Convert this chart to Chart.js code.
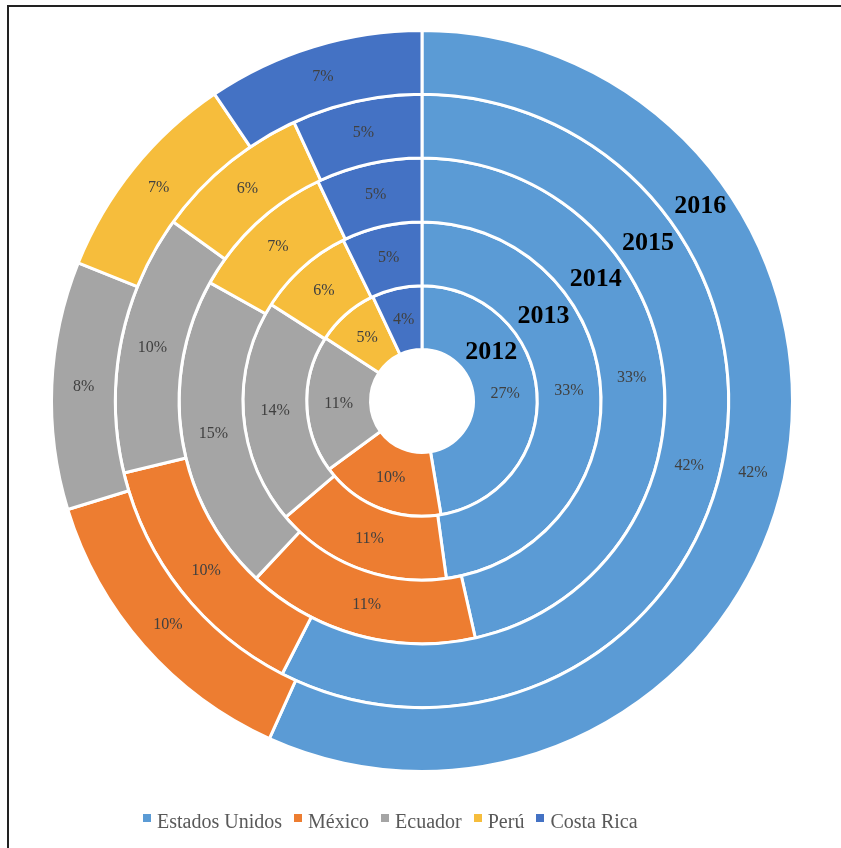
<!DOCTYPE html>
<html><head><meta charset="utf-8">
<script src="https://cdn.jsdelivr.net/npm/chart.js@4.4.0/dist/chart.umd.min.js"></script>
<style>
html,body{margin:0;padding:0;background:#fff;}
#wrap{position:relative;width:841px;height:848px;overflow:hidden;}
#frame{position:absolute;left:7px;top:5px;right:-5px;bottom:-5px;border-top:2px solid #222;border-left:2px solid #222;pointer-events:none;}
canvas{display:block;}
#legend{position:absolute;left:143px;top:809px;display:flex;align-items:center;white-space:nowrap;
  font-family:"Liberation Serif","Times New Roman",serif;font-size:20px;line-height:24px;color:#595959;}
#legend .item{display:flex;align-items:center;margin-right:12px;}
#legend .box{width:8px;height:8px;margin-right:6px;position:relative;top:-3px;}
</style></head><body>
<div id="wrap"><canvas id="c" width="841" height="848"></canvas><div id="legend"></div><div id="frame"></div></div>
<script>
const categories = ['Estados Unidos', 'México', 'Ecuador', 'Perú', 'Costa Rica'];
const years = ['2016', '2015', '2014', '2013', '2012']; // outer ring first
const v2016 = [42, 10, 8, 7, 7];
const v2015 = [42, 10, 10, 6, 5];
const v2014 = [33, 11, 15, 7, 5];
const v2013 = [33, 11, 14, 6, 5];
const v2012 = [27, 10, 11, 5, 4];
const seriesValues = [v2016, v2015, v2014, v2013, v2012];
const colors = ['#5B9BD5', '#ED7D31', '#A5A5A5', '#F6BD3C', '#4472C4'];

const SERIF = '"Liberation Serif", "Times New Roman", serif';

const labelPlugin = {
  id: 'ringLabels',
  afterDatasetsDraw(chart) {
    const ctx = chart.ctx;
    ctx.save();
    ctx.textAlign = 'center';
    ctx.textBaseline = 'middle';
    chart.data.datasets.forEach((ds, i) => {
      const meta = chart.getDatasetMeta(i);
      ctx.font = '16px ' + SERIF;
      ctx.fillStyle = '#404040';
      meta.data.forEach((arc, j) => {
        const p = arc.getCenterPoint();
        ctx.fillText(ds.data[j] + '%', p.x, p.y);
      });
      const a0 = meta.data[0];
      const r = (a0.innerRadius + a0.outerRadius) / 2 + 1;
      const ang = 55 * Math.PI / 180;
      ctx.font = 'bold 26px ' + SERIF;
      ctx.fillStyle = '#000000';
      ctx.fillText(ds.label, a0.x + r * Math.sin(ang), a0.y - r * Math.cos(ang));
    });
    ctx.restore();
  }
};

const chart = new Chart(document.getElementById('c'), {
  type: 'doughnut',
  data: {
    labels: categories,
    datasets: years.map((y, i) => ({
      label: y,
      data: seriesValues[i],
      backgroundColor: colors,
      borderColor: '#ffffff',
      borderWidth: 3,
      hoverOffset: 0
    }))
  },
  options: {
    responsive: false,
    animation: false,
    cutout: '13.9%',
    layout: { padding: { left: 50, right: 47, top: 29, bottom: 75 } },
    plugins: {
      tooltip: { enabled: false },
      legend: { display: false }
    }
  },
  plugins: [labelPlugin]
});

// HTML legend built from the chart's own labels and colours
const legendEl = document.getElementById('legend');
chart.data.labels.forEach((lab, i) => {
  const item = document.createElement('span');
  item.className = 'item';
  const box = document.createElement('span');
  box.className = 'box';
  box.style.background = chart.data.datasets[0].backgroundColor[i];
  const txt = document.createElement('span');
  txt.textContent = lab;
  item.appendChild(box);
  item.appendChild(txt);
  legendEl.appendChild(item);
});
</script>
</body></html>
